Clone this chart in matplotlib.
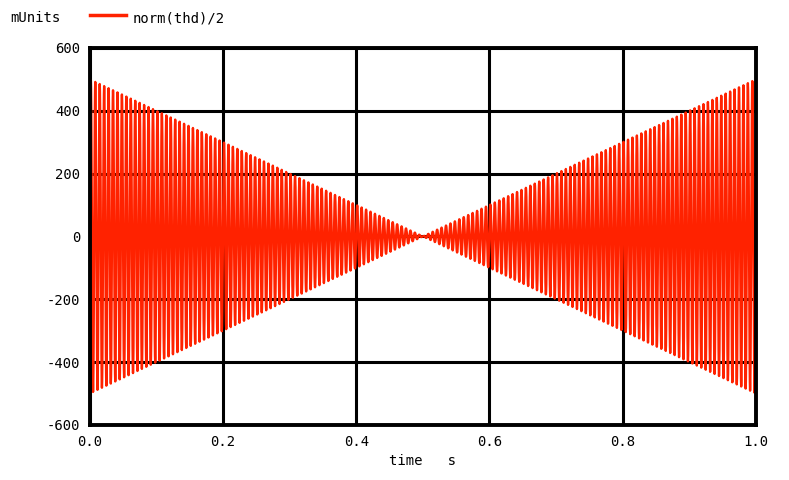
import numpy as np
import matplotlib
matplotlib.use("Agg")
import matplotlib.pyplot as plt

# envelope of the trace (mUnits)
env_t = [0.0, 0.1, 0.2, 0.3, 0.4, 0.5, 0.6, 0.7, 0.8, 0.9, 1.0]
env_amp = [500, 400, 300, 200, 100, 0, 100, 200, 300, 400, 500]
carrier_hz = 150
n_samples = 3001

x_ticks = [0.0, 0.2, 0.4, 0.6, 0.8, 1.0]
x_labels = ["0.0", "0.2", "0.4", "0.6", "0.8", "1.0"]
y_ticks = [-600, -400, -200, 0, 200, 400, 600]
y_labels = ["-600", "-400", "-200", "0", "200", "400", "600"]

t = np.linspace(0, 1, n_samples)
amp = np.interp(t, env_t, env_amp)
y = amp * np.sin(2 * np.pi * carrier_hz * t + 0.3)

plt.rcParams['font.family'] = 'DejaVu Sans Mono'
fig = plt.figure(figsize=(7.89, 4.8), dpi=100)
ax = fig.add_axes([0.114, 0.115, 0.844, 0.785])

ax.plot(t, y, color="#ff2200", lw=1.7)
ax.set_xlim(0, 1)
ax.set_ylim(-600, 600)
ax.set_xticks(x_ticks)
ax.set_xticklabels(x_labels)
ax.set_yticks(y_ticks)
ax.set_yticklabels(y_labels)
ax.tick_params(length=0, labelsize=10, pad=7)
ax.grid(True, color="black", lw=2.2)
ax.set_axisbelow(True)
for s in ax.spines.values():
    s.set_linewidth(2.8)
ax.set_xlabel("time   s", fontsize=10, labelpad=4)

fig.text(0.013, 0.962, "mUnits", fontsize=10, va="center")
fig.add_artist(plt.Line2D([0.114, 0.160], [0.968, 0.968], color="#ff2200", lw=2.5))
fig.text(0.168, 0.962, "norm(thd)/2", fontsize=10, va="center")

fig.savefig("out.png", dpi=100)
